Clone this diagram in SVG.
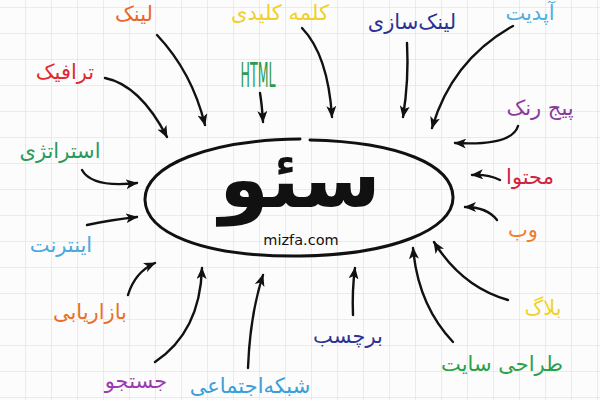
<svg xmlns="http://www.w3.org/2000/svg" width="600" height="400" viewBox="0 0 600 400">
<defs>
<pattern id="grid" x="25" y="7" width="26" height="26" patternUnits="userSpaceOnUse">
<path d="M0,0 H26 M0,0 V26" fill="none" stroke="#d9d9d9" stroke-width="1"/>
</pattern>
<marker id="ah" viewBox="0 0 12 10" refX="11" refY="5" markerWidth="12" markerHeight="10" markerUnits="userSpaceOnUse" orient="auto">
<path d="M0,0 L12,5 L0,10 L3,5 Z" fill="#111"/>
</marker>
</defs>
<style>
.lbl{font-family:"DejaVu Sans",sans-serif;font-size:21px;text-anchor:middle}
.con path{fill:none;stroke:#111;stroke-width:2.4;stroke-linecap:round;marker-end:url(#ah)}
</style>
<rect width="600" height="400" fill="#fcfcfc"/>
<rect width="600" height="400" fill="url(#grid)"/>

<g id="connectors" class="con">
<path d="M105,78 Q140,85 167,137"/>
<path d="M157,35 Q192,72 205,125"/>
<path d="M260,93 Q262,105 263,122"/>
<path d="M302,28 Q328,55 332,117"/>
<path d="M407,43 Q409,80 403,117"/>
<path d="M513,26 Q452,60 432,128"/>
<path d="M518,126 Q512,146 455,143"/>
<path d="M500,180 Q488,174 472,175"/>
<path d="M497,220 Q487,207 465,207"/>
<path d="M508,300 Q462,287 434,242"/>
<path d="M453,342 Q418,305 413,248"/>
<path d="M353,315 Q352,290 355,268"/>
<path d="M248,368 Q250,315 263,275"/>
<path d="M155,362 Q200,332 202,268"/>
<path d="M128,295 Q135,272 155,263"/>
<path d="M87,225 Q110,220 137,217"/>
<path d="M82,170 Q92,188 137,183"/>
</g>

<g id="seo">
<path d="M310,140 C400,142 452,165 453,197 C454,230 390,255 300,256 C200,257 146,232 145,200 C144,165 210,140 300,139" fill="none" stroke="#111" stroke-width="3" stroke-linecap="round"/>
<text x="300" y="207" font-family="DejaVu Sans,sans-serif" font-weight="bold" font-size="80" text-anchor="middle" fill="#111">سئو</text>
<text x="301" y="245" font-family="DejaVu Sans,sans-serif" font-size="14.5" text-anchor="middle" fill="#111">mizfa.com</text>
</g>

<g id="n-link"><text class="lbl" x="134" y="21" fill="#e8672b">لینک</text></g>
<g id="n-traffic"><text class="lbl" x="65" y="79" fill="#df2a30">ترافیک</text></g>
<g id="n-html"><text x="258" y="87" font-family="DejaVu Sans,sans-serif" font-size="34" textLength="35" lengthAdjust="spacingAndGlyphs" text-anchor="middle" fill="#2e9a4c">HTML</text></g>
<g id="n-keyword"><text class="lbl" x="280" y="20" fill="#f0d02a">کلمه کلیدی</text></g>
<g id="n-linkbuilding"><text class="lbl" x="412" y="29" fill="#2e3192">لینک‌سازی</text></g>
<g id="n-update"><text class="lbl" x="530" y="20" fill="#4fb0e0">آپدیت</text></g>
<g id="n-pagerank"><text class="lbl" x="540" y="115" fill="#8b3a9a">پیج رنک</text></g>
<g id="n-strategy"><text class="lbl" x="60" y="158" fill="#2a9a58">استراتژی</text></g>
<g id="n-internet"><text class="lbl" x="61" y="252" fill="#4aa8e0">اینترنت</text></g>
<g id="n-content"><text class="lbl" x="530" y="184" fill="#d4213d">محتوا</text></g>
<g id="n-web"><text class="lbl" x="523" y="237" fill="#f07d2a">وب</text></g>
<g id="n-blog"><text class="lbl" x="543" y="315" fill="#f2d325">بلاگ</text></g>
<g id="n-webdesign"><text class="lbl" x="502" y="371" fill="#2aa14a">طراحی سایت</text></g>
<g id="n-tag"><text class="lbl" x="348" y="343" fill="#2e3192">برچسب</text></g>
<g id="n-social"><text class="lbl" x="250" y="393" fill="#3a9ed8">شبکه‌اجتماعی</text></g>
<g id="n-search"><text class="lbl" x="136" y="388" fill="#9b3bb0">جستجو</text></g>
<g id="n-marketing"><text class="lbl" x="90" y="319" fill="#e8702a">بازاریابی</text></g>
</svg>
